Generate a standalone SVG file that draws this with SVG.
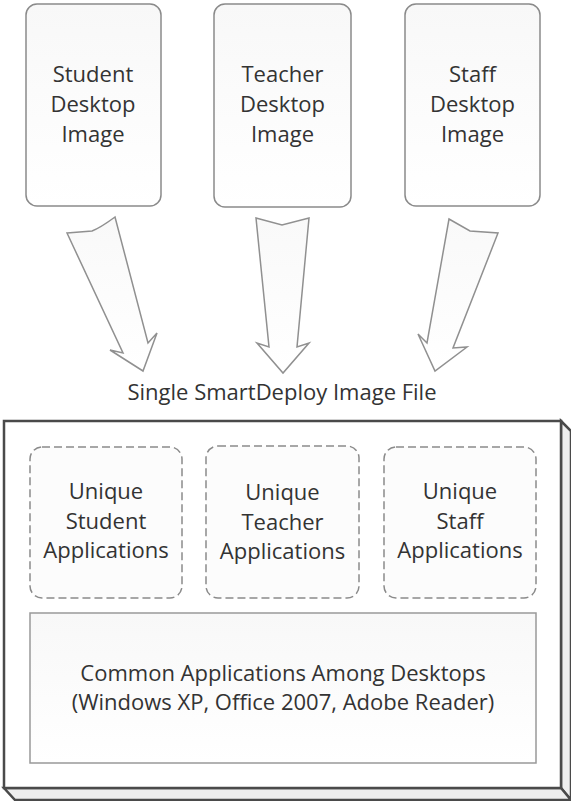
<svg xmlns="http://www.w3.org/2000/svg" width="571" height="801" viewBox="0 0 571 801">
<defs>
<linearGradient id="g1" x1="0" y1="0" x2="0" y2="1"><stop offset="0" stop-color="#f8f8f8"/><stop offset="1" stop-color="#ffffff"/></linearGradient>
<linearGradient id="ga" x1="0" y1="0" x2="0" y2="1"><stop offset="0" stop-color="#f9f9f9"/><stop offset="1" stop-color="#ffffff"/></linearGradient>
</defs>
<style>
text{font-family:"Open Sans","Liberation Sans",sans-serif;font-size:22px;fill:#333333;text-anchor:middle}
.img{fill:url(#g1);stroke:#8a8a8a;stroke-width:1.5}
.arrow{fill:url(#ga);stroke:#909090;stroke-width:1.5;stroke-linejoin:miter}
.uniq{fill:#fcfcfc;stroke:#8a8a8a;stroke-width:1.5;stroke-dasharray:8 4}
.outer{stroke:#4a4a4a;stroke-width:2.5;stroke-linejoin:miter}
</style>
<g id="student-image"><rect class="img" x="26" y="4" width="135" height="202" rx="11"/><text x="93" y="82">Student</text><text x="93" y="112">Desktop</text><text x="93" y="142">Image</text></g>
<g id="teacher-image"><rect class="img" x="214" y="4" width="137" height="203" rx="11"/><text x="282.5" y="82">Teacher</text><text x="282.5" y="112">Desktop</text><text x="282.5" y="142">Image</text></g>
<g id="staff-image"><rect class="img" x="405" y="4" width="135" height="202" rx="11"/><text x="472.5" y="82">Staff</text><text x="472.5" y="112">Desktop</text><text x="472.5" y="142">Image</text></g>
<g id="connectors">
<path class="arrow" d="M67,233 Q80,232 92,231 Q100,228 115,217 L148,343 L157,333 L143,371 L110,350 L123,353 Z"/>
<path class="arrow" d="M256,218 L282,225 L309,218 L297,347 L309,343 L283,373 L257,343 L269,347 Z"/>
<path class="arrow" d="M449,219 L470,231 L498,233 L453,348 L467,347 L435,371 L418,334 L427,343 Z"/>
</g>
<g id="smartdeploy-file">
<text x="282" y="400">Single SmartDeploy Image File</text>
<polygon points="561,421 571,431 571,800 561,788" fill="#eeeeee" class="outer"/>
<polygon points="4,788 561,788 571,800 15,800" fill="#eeeeee" class="outer"/>
<rect x="4" y="421" width="557" height="367" fill="#ffffff" class="outer"/>
</g>
<g id="unique-student"><rect class="uniq" x="30" y="447" width="152" height="151" rx="12"/><text x="106" y="499">Unique</text><text x="106" y="529">Student</text><text x="106" y="558">Applications</text></g>
<g id="unique-teacher"><rect class="uniq" x="206" y="446" width="153" height="152" rx="12"/><text x="282.5" y="500">Unique</text><text x="282.5" y="530">Teacher</text><text x="282.5" y="559">Applications</text></g>
<g id="unique-staff"><rect class="uniq" x="384" y="447" width="152" height="151" rx="12"/><text x="460" y="499">Unique</text><text x="460" y="529">Staff</text><text x="460" y="558">Applications</text></g>
<g id="common-apps"><rect x="30" y="613" width="506" height="150" fill="url(#g1)" stroke="#999999" stroke-width="1.5"/><text x="283" y="681">Common Applications Among Desktops</text><text x="283" y="710">(Windows XP, Office 2007, Adobe Reader)</text></g>
</svg>
